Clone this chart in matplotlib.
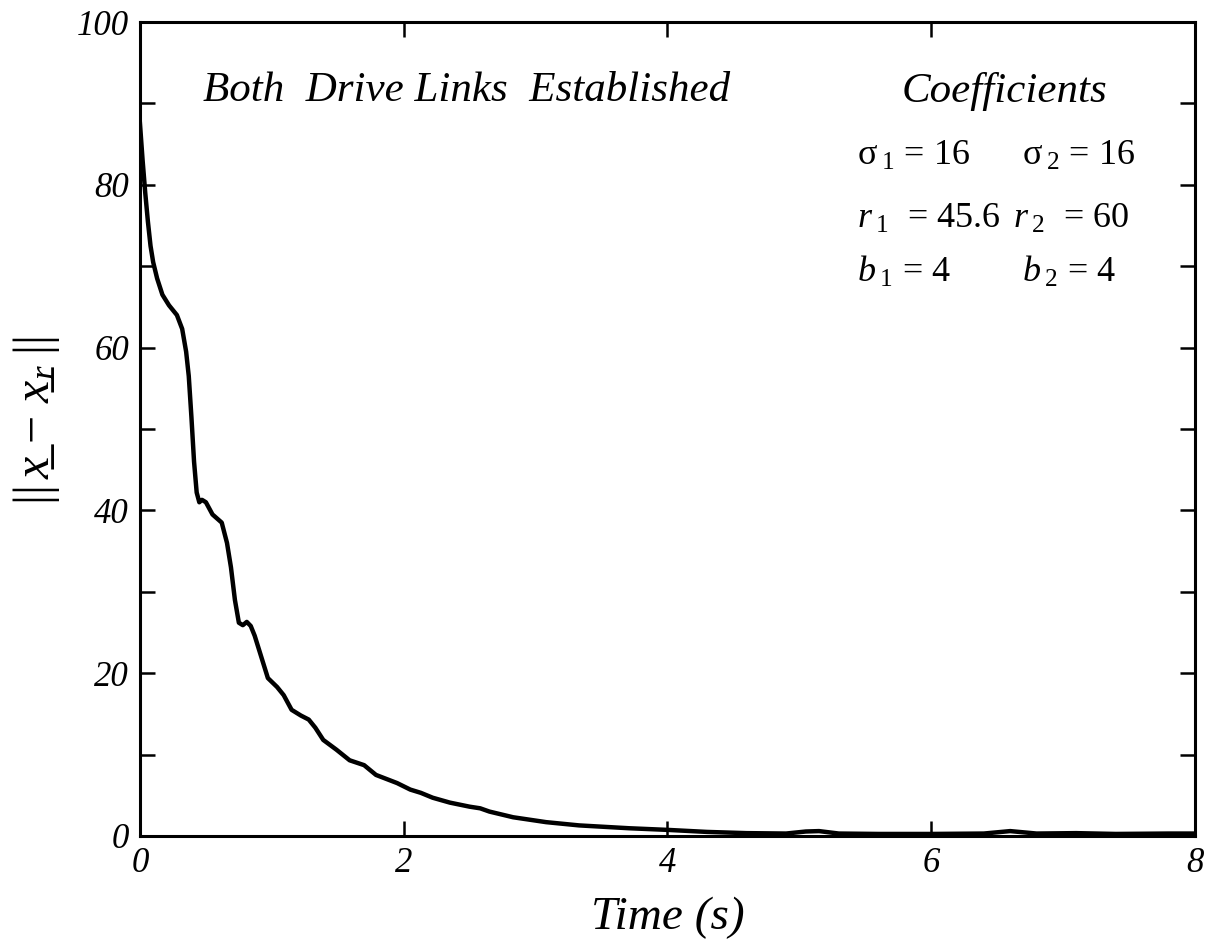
import matplotlib
matplotlib.use("Agg")
import matplotlib.pyplot as plt

plt.rcParams['font.family'] = ['Liberation Serif', 'DejaVu Serif']
plt.rcParams['mathtext.fontset'] = 'custom'
plt.rcParams['mathtext.rm'] = 'Liberation Serif'
plt.rcParams['mathtext.it'] = 'Liberation Serif:italic'
plt.rcParams['mathtext.bf'] = 'Liberation Serif:bold'

# ---- data ----
time_s = [0.00, 0.02, 0.04, 0.06, 0.08, 0.10, 0.13, 0.17, 0.22, 0.28, 0.32, 0.35,
          0.37, 0.39, 0.41, 0.43, 0.45, 0.47, 0.50, 0.55, 0.62, 0.66, 0.69, 0.72,
          0.75, 0.78, 0.81, 0.84, 0.87, 0.92, 0.97, 1.04, 1.09, 1.15, 1.22, 1.28,
          1.33, 1.39, 1.49, 1.59, 1.70, 1.79, 1.95, 2.05, 2.13, 2.22, 2.35, 2.50,
          2.58, 2.65, 2.83, 3.08, 3.33, 3.71, 4.00, 4.30, 4.60, 4.90, 5.05, 5.15,
          5.30, 5.60, 6.00, 6.40, 6.60, 6.80, 7.10, 7.40, 7.80, 8.00]
error_norm = [87.5, 83.0, 79.0, 75.5, 72.5, 70.5, 68.5, 66.5, 65.2, 64.0, 62.3, 59.5,
              56.5, 51.5, 46.0, 42.2, 41.0, 41.3, 41.0, 39.5, 38.5, 36.0, 33.0, 29.0,
              26.2, 25.9, 26.3, 25.8, 24.6, 22.0, 19.4, 18.3, 17.3, 15.5, 14.8, 14.3,
              13.3, 11.8, 10.6, 9.3, 8.7, 7.5, 6.5, 5.7, 5.3, 4.7, 4.1, 3.6,
              3.4, 3.0, 2.3, 1.7, 1.3, 0.95, 0.75, 0.5, 0.35, 0.3, 0.55, 0.6,
              0.3, 0.25, 0.25, 0.3, 0.6, 0.3, 0.35, 0.25, 0.3, 0.3]

x_ticks = [0, 2, 4, 6, 8]
y_major = [0, 20, 40, 60, 80, 100]
y_minor = [10, 30, 50, 70, 90]

fig = plt.figure(figsize=(12.13, 9.46), dpi=100)
ax = fig.add_axes([0.1154, 0.1163, 0.8696, 0.8604])
ax.plot(time_s, error_norm, color='black', lw=3.2, solid_joinstyle='round')
ax.set_xlim(0, 8)
ax.set_ylim(0, 100)

ax.set_xticks(x_ticks)
ax.set_xticklabels([str(v) for v in x_ticks])
ax.set_yticks(y_major)
ax.set_yticklabels([str(v) for v in y_major])
ax.set_yticks(y_minor, minor=True)
ax.tick_params(axis='both', which='both', direction='in', length=11, width=1.8,
               top=True, right=True, labelsize=25, pad=8)
for lab in ax.get_xticklabels() + ax.get_yticklabels():
    lab.set_fontstyle('italic')
for s in ax.spines.values():
    s.set_linewidth(2.2)

ax.set_xlabel('Time (s)', fontsize=34, fontstyle='italic', labelpad=12)
ax.set_ylabel('$||\\,\\mathit{x\u0332}\\,-\\,\\mathit{x\u0332}_{\\mathit{r}}\\;||$',
              fontsize=36)
ax.yaxis.set_label_coords(-0.074, 0.51)

ax.text(0.31, 0.915, 'Both  Drive Links  Established', transform=ax.transAxes,
        fontsize=31, fontstyle='italic', ha='center', va='center')
ax.text(0.82, 0.915, 'Coefficients', transform=ax.transAxes,
        fontsize=31, fontstyle='italic', ha='center', va='center')

rows_left = [r'$\mathrm{\sigma}\,{}_{\mathit{1}}$ = 16',
             r'$\mathit{r}\,{}_{\mathit{1}}$  = $\mathit{45.6}$',
             r'$\mathit{b}\,{}_{\mathit{1}}$ = $\mathit{4}$']
rows_right = [r'$\mathrm{\sigma}\,{}_{2}$ = 16',
              r'$\mathit{r}\,{}_{\mathit{2}}$  = $\mathit{60}$',
              r'$\mathit{b}\,{}_{\mathit{2}}$ = $\mathit{4}$']
row_y = [0.835, 0.758, 0.692]
right_x = [0.836, 0.828, 0.836]
for txt, yy in zip(rows_left, row_y):
    ax.text(0.680, yy, txt, transform=ax.transAxes, fontsize=26, ha='left', va='center')
for txt, yy, xx in zip(rows_right, row_y, right_x):
    ax.text(xx, yy, txt, transform=ax.transAxes, fontsize=26, ha='left', va='center')

fig.savefig('out.png', dpi=100)
